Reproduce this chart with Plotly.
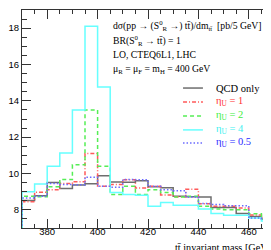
import plotly.graph_objects as go

# ---- data: 5 GeV bins, lower edges ----
bin_lo = [370, 375, 380, 385, 390, 395, 400, 405, 410, 415,
          420, 425, 430, 435, 440, 445, 450, 455, 460, 465]
bin_width = 5

qcd_only = [8.52, 8.78, 9.50, 9.17, 9.37, 9.43, 9.87, 9.53, 9.52, 9.60,
            9.27, 9.22, 8.75, 8.72, 8.70, 8.13, 8.13, 7.80, 7.63, 7.50]
eta_1 = [8.45, 8.97, 9.10, 9.45, 9.55, 11.10, 9.30, 9.40, 9.65, 9.20,
         9.30, 8.82, 8.72, 9.13, 8.33, 8.20, 8.20, 8.10, 7.72, 7.55]
eta_2 = [8.75, 8.72, 9.27, 9.67, 10.48, 13.50, 10.40, 8.85, 9.30, 8.85,
         9.10, 8.95, 8.70, 8.75, 8.20, 8.05, 8.00, 8.00, 7.78, 7.50]
eta_4 = [9.00, 9.42, 10.40, 11.13, 13.50, 18.10, 14.76, 8.95, 8.85, 8.80,
         8.20, 8.40, 8.25, 8.25, 8.05, 7.80, 7.70, 7.70, 7.55, 7.38]
eta_05 = [8.65, 8.75, 9.45, 9.40, 9.38, 9.80, 9.30, 9.25, 9.67, 9.65,
          9.30, 9.10, 9.05, 8.70, 8.35, 8.30, 8.22, 8.22, 7.55, 7.45]

x_ticks = [380, 400, 420, 440, 460]
y_ticks = [8, 10, 12, 14, 16, 18]

series = [
    ("QCD only", qcd_only, "#6e6e6e", "solid", "#000000"),
    ("η<sub>U</sub> = 1", eta_1, "#ff5a5a", "4px,2px,1px,2px", "#ff3030"),
    ("η<sub>U</sub> = 2", eta_2, "#55ee55", "4px,3px", "#40ee40"),
    ("η<sub>U</sub> = 4", eta_4, "#66ffff", "solid", "#40f0f0"),
    ("η<sub>U</sub> = 0.5", eta_05, "#6a6aff", "1.5px,2px", "#2a2aff"),
]


def step_path(vals):
    xs = [bin_lo[0]] + bin_lo + [bin_lo[-1] + bin_width]
    ys = [0] + list(vals) + [vals[-1]]
    return xs, ys


fig = go.Figure()
for name, vals, col, dash, _ in series:
    xs, ys = step_path(vals)
    fig.add_trace(go.Scatter(x=xs, y=ys, mode="lines", line_shape="hv",
                             line=dict(color=col, width=1.5, dash=dash),
                             name=name, showlegend=False, hoverinfo="skip"))

serif = "Liberation Serif"

# title-like text block
text_lines = [
    "dσ(pp → (S<sup>0</sup><sub>R</sub> →) tt̄)/dm<sub>tt̄</sub>  [pb/5 GeV]",
    "BR(S<sup>0</sup><sub>R</sub> → tt̄) = 1",
    "LO, CTEQ6L1, LHC",
    "μ<sub>R</sub> = μ<sub>F</sub> = m<sub>H</sub> = 400 GeV",
]
text_y = [0.927, 0.858, 0.794, 0.729]
for t, yy in zip(text_lines, text_y):
    fig.add_annotation(text=t, xref="paper", yref="paper", x=0.353, y=yy,
                       xanchor="left", yanchor="middle", showarrow=False,
                       font=dict(family=serif, size=9.7, color="#000000"))

# manual legend
leg_y = [0.642, 0.578, 0.514, 0.450, 0.390]
for (name, vals, col, dash, tcol), yy in zip(series, leg_y):
    fig.add_shape(type="line", xref="paper", yref="paper",
                  x0=0.639, x1=0.718, y0=yy, y1=yy,
                  line=dict(color=col, width=1.5, dash=dash))
    fig.add_annotation(text=name, xref="paper", yref="paper", x=0.762, y=yy,
                       xanchor="left", yanchor="middle", showarrow=False,
                       font=dict(family=serif, size=10.5, color=tcol))

fig.add_annotation(text="tt̄ invariant mass [GeV]", xref="paper", yref="paper",
                   x=0.995, y=0, yshift=-12, xanchor="right", yanchor="top",
                   showarrow=False, font=dict(family=serif, size=10.2, color="#000000"))

axis_common = dict(showline=True, linecolor="#333333", linewidth=1, mirror="allticks",
                   ticks="inside", tickcolor="#333333", showgrid=False, zeroline=False,
                   tickfont=dict(family="Liberation Sans", size=9.5, color="#000000"))

fig.update_xaxes(range=[370, 470], tickvals=x_ticks, ticklen=9,
                 ticklabelstandoff=-5,
                 minor=dict(dtick=5, ticks="inside", ticklen=4, tickcolor="#333333"),
                 **axis_common)
fig.update_yaxes(range=[7, 19], tickvals=y_ticks, ticklen=9,
                 minor=dict(dtick=0.5, ticks="inside", ticklen=4.5, tickcolor="#333333"),
                 **axis_common)

fig.update_layout(width=271, height=250,
                  margin=dict(l=14, r=5, t=2, b=30, autoexpand=False),
                  plot_bgcolor="white", paper_bgcolor="white", showlegend=False)

fig.write_html("out.html")
